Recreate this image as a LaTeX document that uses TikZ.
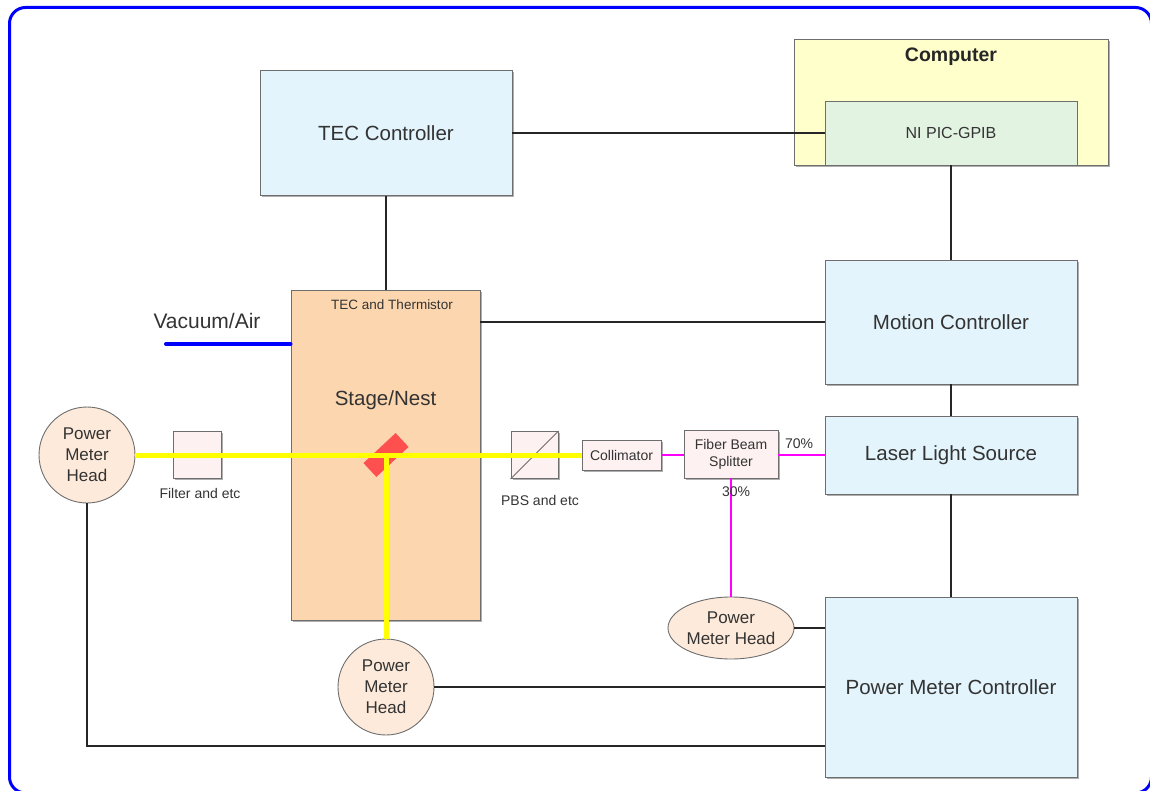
\documentclass[tikz,border=0pt]{standalone}
\usepackage{fontspec}
\setmainfont{Liberation Sans}
\usetikzlibrary{shapes.geometric,shadows}
\definecolor{boxblue}{HTML}{E3F4FC}
\definecolor{compyellow}{HTML}{FFFFCC}
\definecolor{nigreen}{HTML}{E2F3E2}
\definecolor{stagepeach}{HTML}{FCD6AE}
\definecolor{headfill}{HTML}{FDEADA}
\definecolor{optfill}{HTML}{FDF1F1}
\definecolor{edgegray}{HTML}{6E6E6E}
\definecolor{txt}{HTML}{333333}
\definecolor{beamyellow}{HTML}{FFFF00}
\definecolor{fibermag}{HTML}{FF00FF}
\definecolor{mirrorred}{HTML}{FF5050}
\definecolor{frameblue}{HTML}{0000FF}
\tikzset{
  x=1pt, y=-1pt,
  base/.style={draw=edgegray, line width=0.9pt, text=txt, inner sep=0pt, align=center},
  shad/.style={drop shadow={shadow xshift=1.6pt, shadow yshift=-1.6pt, fill=black!45, opacity=0.7}},
  bigbox/.style={base, shad, fill=boxblue, font=\fontsize{20.5}{24}\selectfont},
  optbox/.style={base, shad, fill=optfill, font=\fontsize{14}{17}\selectfont},
  headcircle/.style={base, circle, fill=headfill, minimum size=96pt, font=\fontsize{17}{21}\selectfont},
  headellipse/.style={base, ellipse, fill=headfill, minimum width=126pt, minimum height=62pt, font=\fontsize{17}{21}\selectfont},
  lbl/.style={text=txt, inner sep=0pt, align=center},
  wire/.style={draw=black!85, line width=1.8pt},
  beam/.style={draw=beamyellow, line width=5pt},
  fiber/.style={draw=fibermag, line width=1.8pt},
}
\begin{document}
\begin{tikzpicture}
\useasboundingbox (0,0) rectangle (1150,791);
% frame
\draw[frameblue, line width=3pt, rounded corners=16pt] (9.5,7.5) rectangle (1151.5,793);

% boxes
\node[bigbox, minimum width=252pt, minimum height=125pt] (tec) at (386,133) {TEC Controller};
\node[base, shad, fill=compyellow, minimum width=314pt, minimum height=126pt] (comp) at (951,102) {};
\node[lbl, font=\fontsize{19.5}{23}\selectfont\bfseries, text=black!85] (complbl) at (951,57) {Computer};
\node[base, fill=nigreen, minimum width=252pt, minimum height=64pt, font=\fontsize{16}{19}\selectfont] (ni) at (951,133) {NI PIC-GPIB};
\node[bigbox, minimum width=252pt, minimum height=124pt] (motion) at (951,322) {Motion Controller};
\node[bigbox, minimum width=252pt, minimum height=78pt] (laser) at (951,455) {Laser Light Source};
\node[bigbox, minimum width=252pt, minimum height=180pt] (pmc) at (951,687) {Power Meter Controller};
\node[base, shad, fill=stagepeach, minimum width=189pt, minimum height=330pt] (stage) at (385.5,455) {};
\node[lbl, font=\fontsize{13.5}{16}\selectfont] (teclbl) at (392,305) {TEC and Thermistor};
\node[lbl, font=\fontsize{20.5}{24}\selectfont] (stagelbl) at (385.5,400) {Stage/Nest};

% optics
\node[optbox, minimum width=48pt, minimum height=47pt] (filter) at (197,455) {};
\node[lbl, font=\fontsize{14}{17}\selectfont] (filterlbl) at (200,493) {Filter and etc};
\node[optbox, minimum width=47pt, minimum height=47pt] (pbs) at (534.5,455) {};
\draw[edgegray, line width=0.9pt] (pbs.south west) -- (pbs.north east);
\node[lbl, font=\fontsize{14}{17}\selectfont] (pbslbl) at (540,500) {PBS and etc};
\node[optbox, minimum width=79pt, minimum height=30pt] (coll) at (621.5,455) {Collimator};
\node[optbox, minimum width=94pt, minimum height=48pt] (split) at (731,454) {Fiber Beam\\Splitter};

% power meter heads
\node[headcircle] (pmL) at (87,455) {Power\\Meter\\Head};
\node[headcircle] (pmB) at (386,687) {Power\\Meter\\Head};
\node[headellipse] (pmR) at (731,628) {Power\\Meter Head};

% wires
\draw[wire] (tec.east |- ni.west) -- (ni.west);
\draw[wire] (ni.south) -- (motion.north);
\draw[wire] (motion.south) -- (laser.north);
\draw[wire] (laser.south) -- (pmc.north);
\draw[wire] (tec.south) -- (tec.south |- stage.north);
\draw[wire] (motion.west) -- (motion.west -| stage.east);
\draw[wire] (pmR.east) -- (pmR.east -| pmc.west);
\draw[wire] (pmB.east) -- (pmB.east -| pmc.west);
\coordinate (pmLcorner) at (87,746);
\draw[wire] (pmL.south) -- (pmLcorner) -- (pmLcorner -| pmc.west);

% vacuum/air
\coordinate (vac) at (166,344);
\draw[frameblue, line width=4pt, line cap=round] (vac) -- (vac -| stage.west);
\node[lbl, font=\fontsize{21}{25}\selectfont] (vaclbl) at (207,321) {Vacuum/Air};

% fibers
\draw[fiber] (coll.east) -- (coll.east -| split.west);
\draw[fiber] (split.east |- laser.west) -- (laser.west);
\coordinate (splitbot) at (731,478);
\draw[fiber] (splitbot) -- (pmR.north);
\node[lbl, font=\fontsize{14}{17}\selectfont] (p70) at (799,444) {70\%};
\node[lbl, font=\fontsize{14}{17}\selectfont] (p30) at (736,492) {30\%};

% mirror and beams
\node[draw=none, fill=mirrorred, rotate=43, minimum width=44pt, minimum height=19pt, inner sep=0pt] (mir) at (386,455) {};
\draw[beam] (pmL.east) -- (coll.west);
\draw[beam] (mir.center) -- (pmB.north);
\end{tikzpicture}
\end{document}
